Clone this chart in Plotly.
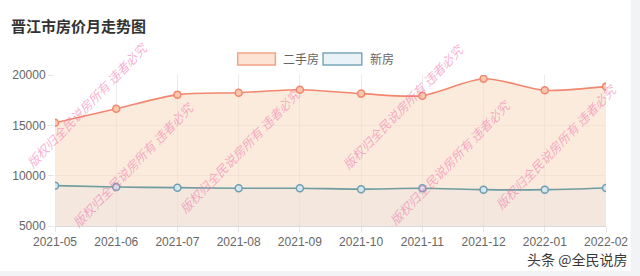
import plotly.graph_objects as go

# Monthly average listing prices (yuan / m²)
months = ["2021-05", "2021-06", "2021-07", "2021-08", "2021-09",
          "2021-10", "2021-11", "2021-12", "2022-01", "2022-02"]
resale_price = [15260, 16650, 18050, 18240, 18540, 18150, 17950, 19630, 18480, 18870]
new_price = [9010, 8880, 8810, 8750, 8750, 8660, 8750, 8610, 8610, 8780]

series_names = ["二手房", "新房"]
y_ticks = [5000, 10000, 15000, 20000]

title_text = "晋江市房价月走势图"
watermark_text = "版权归全民说房所有 违者必究"
source_text = "头条 @全民说房"

W, H = 640, 276
PL, PR, PT, PB = 54, 609, 75, 226  # plot area in pixels


def px(x):
    return (x - PL) / (PR - PL)


def py(y):
    return (PB - y) / (PB - PT)


RESALE_LINE = "#f2876f"
RESALE_FILL = "rgba(249,222,198,0.6)"
NEW_LINE = "#6f9c9f"
NEW_FILL = "rgba(215,215,228,0.2)"

fig = go.Figure()
fig.add_trace(go.Scatter(
    x=months, y=resale_price, name=series_names[0],
    mode="lines+markers", fill="tozeroy", fillcolor=RESALE_FILL,
    line=dict(color=RESALE_LINE, width=1.6, shape="spline", smoothing=0.8),
    marker=dict(size=7, color="#f9c7ae", line=dict(color=RESALE_LINE, width=1.5)),
    showlegend=False,
))
fig.add_trace(go.Scatter(
    x=months, y=new_price, name=series_names[1],
    mode="lines+markers", fill="tozeroy", fillcolor=NEW_FILL,
    line=dict(color=NEW_LINE, width=1.6, shape="spline", smoothing=0.8),
    marker=dict(size=7, color="#d6e6ee", line=dict(color="#6f9fb2", width=1.5)),
    showlegend=False,
))

shapes = []
annotations = []

# page frame strips on the right and bottom
shapes.append(dict(type="rect", xref="paper", yref="paper", layer="below",
                   x0=px(634), x1=px(W + 5), y0=py(H + 5), y1=py(-5),
                   fillcolor="#f2f3f5", line=dict(width=0)))
shapes.append(dict(type="rect", xref="paper", yref="paper", layer="below",
                   x0=px(-5), x1=px(W + 5), y0=py(H + 5), y1=py(271),
                   fillcolor="#f2f3f5", line=dict(width=0)))

# legend boxes
legend_items = [
    (238, 276, 282, series_names[0], "#f4a387", "rgba(251,228,212,1)"),
    (324, 363, 369, series_names[1], "#7aa8bb", "rgba(232,242,247,1)"),
]
for x0, x1, tx, label, edge, face in legend_items:
    shapes.append(dict(type="rect", xref="paper", yref="paper",
                       x0=px(x0), x1=px(x1), y0=py(65), y1=py(53),
                       fillcolor=face, line=dict(color=edge, width=1.5)))
    annotations.append(dict(xref="paper", yref="paper", x=px(tx), y=py(59),
                            text=label, showarrow=False, xanchor="left", yanchor="middle",
                            font=dict(family="Noto Sans CJK SC", size=12, color="#666666")))

# title
annotations.append(dict(xref="paper", yref="paper", x=px(8), y=py(26),
                        text="<b>" + title_text + "</b>", showarrow=False,
                        xanchor="left", yanchor="middle",
                        font=dict(family="Noto Sans CJK SC", size=15, color="#333333")))

# diagonal copyright marks
mark_centres = [(86, 104), (132, 164), (240, 150), (404, 106), (451, 162), (558, 146)]
for cx, cy in mark_centres:
    annotations.append(dict(xref="paper", yref="paper", x=px(cx), y=py(cy),
                            text=watermark_text, showarrow=False, textangle=-46,
                            xanchor="center", yanchor="middle",
                            font=dict(family="Noto Sans CJK SC", size=12.5,
                                      color="rgba(240,110,170,0.55)", style="italic")))

# source tag
annotations.append(dict(xref="paper", yref="paper", x=px(632), y=py(259),
                        text=source_text, showarrow=False, xanchor="right", yanchor="middle",
                        font=dict(family="Noto Sans CJK SC", size=14, color="#3a3a3a")))

fig.update_layout(
    width=W, height=H,
    margin=dict(l=PL, r=W - PR, t=PT, b=H - PB, pad=0),
    paper_bgcolor="white", plot_bgcolor="white",
    shapes=shapes, annotations=annotations,
    showlegend=False,
)
fig.update_xaxes(
    type="category", range=[0, len(months) - 1],
    showgrid=True, gridcolor="rgba(0,0,0,0.08)", gridwidth=1,
    ticks="outside", ticklen=5, tickcolor="rgba(0,0,0,0.1)",
    showline=True, linecolor="rgba(0,0,0,0.15)", linewidth=1,
    zeroline=False,
    tickfont=dict(family="Liberation Sans", size=12, color="#666666"),
)
fig.update_yaxes(
    range=[5000, 20000], tickvals=y_ticks, ticktext=[str(v) for v in y_ticks],
    showgrid=True, gridcolor="rgba(0,0,0,0.08)", gridwidth=1,
    ticks="outside", ticklen=6, tickcolor="rgba(0,0,0,0.1)",
    showline=False, zeroline=False,
    tickfont=dict(family="Liberation Sans", size=12, color="#666666"),
)

fig.write_html("out.html")
